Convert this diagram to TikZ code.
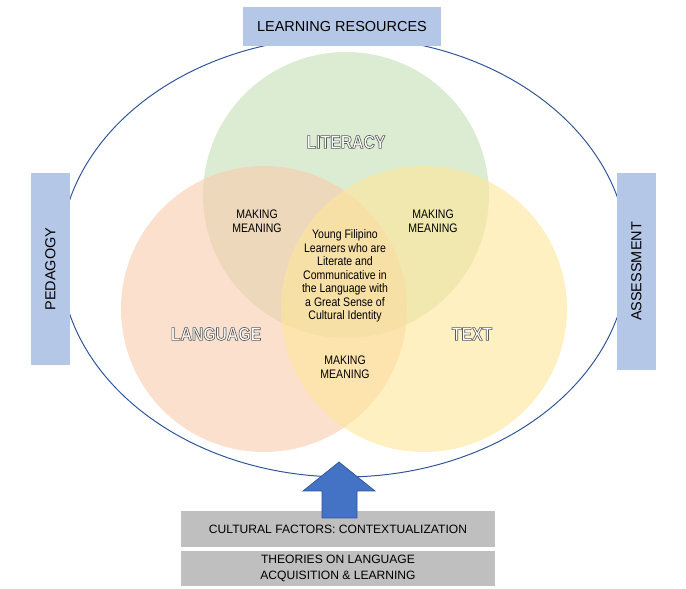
\documentclass[tikz,border=0pt]{standalone}
\usepackage{fontspec}
\setmainfont{Liberation Sans}
\newfontfamily\narrowfont{Liberation Sans}[FakeStretch=0.85]
\usetikzlibrary{positioning}
\definecolor{FrameBlue}{RGB}{47,85,151}
\definecolor{SoftBlue}{RGB}{180,199,231}
\definecolor{ArrowBlue}{RGB}{68,114,196}
\definecolor{LitGreen}{RGB}{197,224,180}
\definecolor{LangPeach}{RGB}{248,203,173}
\definecolor{TextGold}{RGB}{255,230,153}
\definecolor{BaseGray}{RGB}{191,191,191}
\newcommand\hollow[1]{{\color{white}\special{pdf:literal direct 2 Tr 0.45 w 0.35 0.35 0.35 RG}#1\special{pdf:literal direct 0 Tr}}}

\begin{document}
\begin{tikzpicture}[x=0.025cm,y=0.025cm,font=\fontsize{10.3}{12}\selectfont,
  sidebox/.style={fill=SoftBlue,inner sep=0pt,minimum height=0.975cm},
  basebox/.style={fill=BaseGray,inner sep=0pt,minimum width=7.85cm,font=\fontsize{8.6}{11.4}\selectfont,align=center},
  circlabel/.style={font=\narrowfont\bfseries\fontsize{13.2}{14}\selectfont},
  meaning/.style={font=\narrowfont\fontsize{8.8}{9.6}\selectfont,align=center}]
\useasboundingbox (0,0) rectangle (686,-589);
% frame and circles
\draw[FrameBlue,line width=0.7pt] (344,-257) ellipse [x radius=284,y radius=220];
\fill[LitGreen,fill opacity=0.6] (346,-195) circle [radius=143];
\fill[LangPeach,fill opacity=0.6] (264,-309) circle [radius=143];
\fill[TextGold,fill opacity=0.6] (424,-309) circle [radius=143];
% side labels
\node[sidebox,minimum width=4.95cm] (res) at (342,-26.5) {LEARNING RESOURCES};
\node[sidebox,minimum width=4.8cm,rotate=90] (ped) at (50.5,-269) {PEDAGOGY};
\node[sidebox,minimum width=4.925cm,rotate=90] (ass) at (636.5,-271.5) {ASSESSMENT};
% circle labels
\node[circlabel] (lit) at (346,-142) {\hollow{LITERACY}};\node[circlabel] (lang) at (216,-334) {\hollow{LANGUAGE}};\node[circlabel] (txt) at (472,-334) {\hollow{TEXT}};
\node[meaning] (mm1) at (257,-221) {MAKING\\MEANING};\node[meaning] (mm2) at (433,-221) {MAKING\\MEANING};\node[meaning] (mm3) at (345,-367) {MAKING\\MEANING};
\node[meaning] (goal) at (345,-276) {Young Filipino\\Learners who are\\Literate and\\Communicative in\\the Language with\\a Great Sense of\\Cultural Identity};
% foundation
\node[basebox,minimum height=0.9cm] (cult) at (338,-529) {CULTURAL FACTORS: CONTEXTUALIZATION};
\node[basebox,minimum height=0.875cm,below=0.075cm of cult] (theo) {THEORIES ON LANGUAGE\\ACQUISITION \& LEARNING};
\draw[FrameBlue,fill=ArrowBlue,line width=0.5pt] (322,-518) -- (322,-491) -- (303,-491) -- (339,-462) -- (375,-491) -- (357,-491) -- (357,-518) -- cycle;
\end{tikzpicture}
\end{document}
